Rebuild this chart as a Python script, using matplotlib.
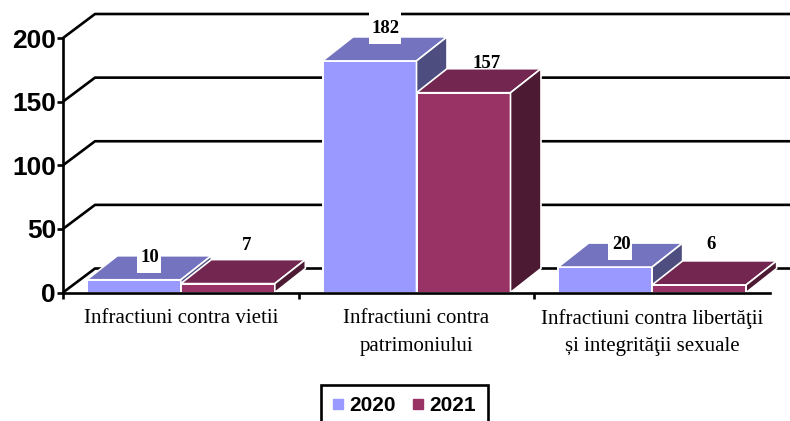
import matplotlib.pyplot as plt
from matplotlib.lines import Line2D
from matplotlib.patches import Polygon, Rectangle

# valori
categories = ["Infractiuni contra vietii",
              "Infractiuni contra\npatrimoniului",
              "Infractiuni contra libertăţii\nși integrităţii sexuale"]
years = ["2020", "2021"]
values_2020 = [10, 182, 20]
values_2021 = [7, 157, 6]
y_ticks = [0, 50, 100, 150, 200]

W, H = 790, 421
fig = plt.figure(figsize=(W / 100, H / 100), dpi=100)
ax = fig.add_axes([63 / W, 1 - 292.5 / H, 707 / W, 254.5 / H])
ax.set_xlim(0, 3)
ax.set_ylim(0, 200)

# pixeli -> unitati de date
px_x = 3 / 707
px_y = 200 / 254.5

# peretele din spate
grid_dx, grid_dy = 32 * px_x, 24 * px_y
right_end = (790 - 63) * px_x
for v in y_ticks:
    ax.plot([0, grid_dx, right_end], [v, v + grid_dy, v + grid_dy],
            color="black", lw=1.9, clip_on=False, zorder=1, solid_capstyle="butt")

bar_w = 94 * px_x
dx, dy = 30.5 * px_x, 24 * px_y


def draw_series(values, offset, front, top, side, z):
    for i, v in enumerate(values):
        x0 = i + 0.5 + offset * bar_w - bar_w
        x1 = x0 + bar_w
        ax.bar(x0, v, bar_w, align="edge", color=front, edgecolor="white", lw=1.4, zorder=z)
        ax.add_patch(Polygon([(x0, v), (x0 + dx, v + dy), (x1 + dx, v + dy), (x1, v)],
                             facecolor=top, edgecolor="white", lw=1.2, zorder=z, clip_on=False))
        ax.add_patch(Polygon([(x1, 0), (x1 + dx, dy), (x1 + dx, v + dy), (x1, v)],
                             facecolor=side, edgecolor="white", lw=1.2, zorder=z, clip_on=False))


draw_series(values_2020, 0, "#9999FF", "#7373BF", "#4D4D80", 3)
draw_series(values_2021, 1, "#993366", "#732650", "#4D1A33", 4)

# etichete: 2020 au fundal alb, 2021 nu
lift_2020 = [24, 34, 24]
lift_2021 = [40, 31, 42]
nudge_2021 = [3, 7, -4]
for i, (v, lift) in enumerate(zip(values_2020, lift_2020)):
    cx = i + 0.5 - bar_w / 2 + dx / 2
    cy = v + lift * px_y
    w = (8 * len(str(v)) + 8) * px_x
    ax.add_patch(Rectangle((cx - w / 2, cy - 17 * px_y), w, 33 * px_y, facecolor="white",
                           edgecolor="none", zorder=5, clip_on=False))
    ax.text(cx + 1 * px_x, cy - 1.5 * px_y, str(v), ha="center", va="center",
            family="Liberation Serif", weight="bold", fontsize=13.5, zorder=6, clip_on=False)
for i, (v, lift) in enumerate(zip(values_2021, lift_2021)):
    cx = i + 0.5 + bar_w / 2 + dx / 2
    ax.text(cx + (1 + nudge_2021[i]) * px_x, v + (lift - 1.5) * px_y, str(v), ha="center", va="center",
            family="Liberation Serif", weight="bold", fontsize=13.5, zorder=6, clip_on=False)

for s in ["top", "right"]:
    ax.spines[s].set_visible(False)
for s in ["left", "bottom"]:
    ax.spines[s].set_linewidth(1.9)
    ax.spines[s].set_zorder(10)

ax.set_yticks(y_ticks)
ax.tick_params(axis="y", length=4, width=1.9, pad=1)
for lab in ax.get_yticklabels():
    lab.set_family("Liberation Sans")
    lab.set_weight("bold")
    lab.set_fontsize(19)

ax.set_xticks([0, 1, 2], ["", "", ""])
ax.tick_params(axis="x", which="major", length=4, width=1.9)
ax.set_xticks([0.5, 1.5, 2.5], categories, minor=True)
ax.tick_params(axis="x", which="minor", length=0, pad=12)
for lab in ax.get_xticklabels(minor=True):
    lab.set_family("Liberation Serif")
    lab.set_fontsize(15)
    lab.set_linespacing(1.6)

handles = [Line2D([], [], ls="none", marker="s", ms=7.2, color="#9999FF"),
           Line2D([], [], ls="none", marker="s", ms=7.2, color="#993366")]
leg = fig.legend(handles, years, ncols=2, loc="upper center",
                 bbox_to_anchor=(404.5 / W, 1 - 385 / H), fancybox=False,
                 edgecolor="black", framealpha=1, borderpad=0.55, borderaxespad=0,
                 handlelength=0.5, handletextpad=0.3, columnspacing=0.8,
                 prop={"family": "Liberation Sans", "weight": "bold", "size": 15})
leg.get_frame().set_linewidth(1.9)

fig.savefig("out.png", dpi=100)
